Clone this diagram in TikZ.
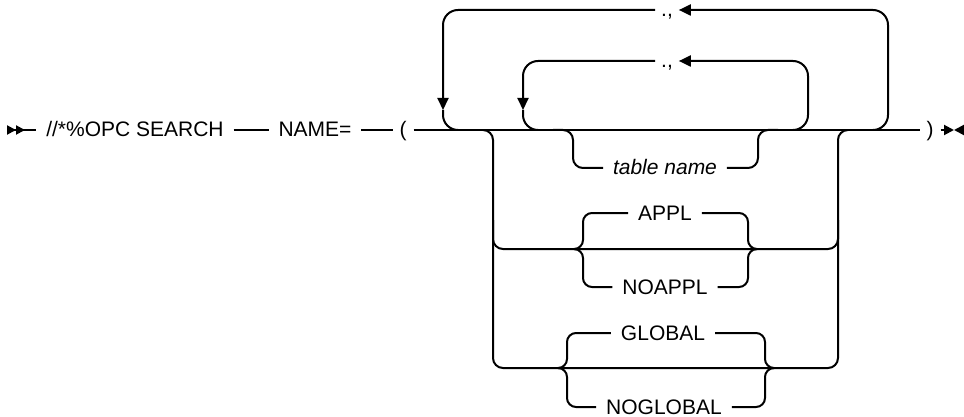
\documentclass[tikz,border=0pt]{standalone}
\usepackage{fontspec}
\setmainfont{Liberation Sans}
\usetikzlibrary{arrows.meta}

\begin{document}
\begin{tikzpicture}[x=1pt,y=-1pt,line width=2pt]
\fontsize{21}{25}\selectfont
\tikzstyle{word}=[inner xsep=9pt, inner ysep=0pt, text height=14pt, text depth=0pt]
\tikzstyle{tip}=[-{Triangle[length=12pt,width=11pt]}]
\useasboundingbox (0,0) rectangle (964,417);
\coordinate (begin) at (7,130);
\coordinate (finish) at (964,130);
\coordinate (stop) at (954,130);
\node[word] (opc) at (135,130) {//*\%OPC SEARCH};
\node[word] (name) at (315,130) {NAME=};
\node[word, inner xsep=6pt] (lpar) at (403,130) {(};
\node[word, inner xsep=6pt] (rpar) at (930,130) {)};
\node[word, inner xsep=5pt] (sepA) at (667,10) {.,};
\node[word, inner xsep=5pt] (sepB) at (667,61) {.,};
\node[word, font=\itshape] (tname) at (665,168) {table name};
\node[word] (appl) at (665,213) {APPL};
\node[word] (noappl) at (665,287) {NOAPPL};
\node[word] (global) at (663,333) {GLOBAL};
\node[word] (noglobal) at (664,407) {NOGLOBAL};
% main line
\draw[{Triangle[reversed,length=9pt,width=9pt]Triangle[reversed,length=9pt,width=9pt]}-] (begin) -- (opc);
\draw (opc) -- (name);
\draw (name) -- (lpar);
\draw (lpar) -- (rpar);
\draw[-{Triangle[length=10pt,width=10pt]}] (rpar) -- (stop);
\draw[-{Triangle[length=10pt,width=10pt]}] (finish) -- (stop);
% repeat loops
\foreach \sep/\xl/\xr/\yt in {sepA/443/888/10, sepB/523/808/61}
       {
        \draw[tip, rounded corners=15] (\xr-15,130) -- (\xr,130) -- (\xr,\yt) -- (\sep);
        \draw[tip, rounded corners=15] (\sep) -- (\xl,\yt) -- (\xl,110);
        \draw[rounded corners=15] (\xl,110) -- (\xl,130) -- (\xl+15,130);
       }
% table name
\draw[rounded corners=10] (553,130) -- (573,130) -- (573,168) -- (tname);
\draw[rounded corners=10] (tname) -- (758,168) -- (758,130) -- (778,130);
% options
\draw[rounded corners=10] (483,130) -- (493,130) -- (493,368) -- (838,368) -- (838,130) -- (848,130);
\draw[rounded corners=10] (493,220) -- (493,249) -- (838,249) -- (838,220);
\foreach \up/\down/\yt/\ym/\yb/\xl/\xr/\cl/\cr in {appl/noappl/213/249/287/583/748/577/754, global/noglobal/333/368/407/567/765/559/773}
       {
        \draw[rounded corners=9] (\up) -- (\xl,\yt) -- (\xl,\ym) -- (\cl,\ym);
        \draw[rounded corners=9] (\down) -- (\xl,\yb) -- (\xl,\ym) -- (\cl,\ym);
        \draw[rounded corners=9] (\up) -- (\xr,\yt) -- (\xr,\ym) -- (\cr,\ym);
        \draw[rounded corners=9] (\down) -- (\xr,\yb) -- (\xr,\ym) -- (\cr,\ym);
       }
\end{tikzpicture}
\end{document}
